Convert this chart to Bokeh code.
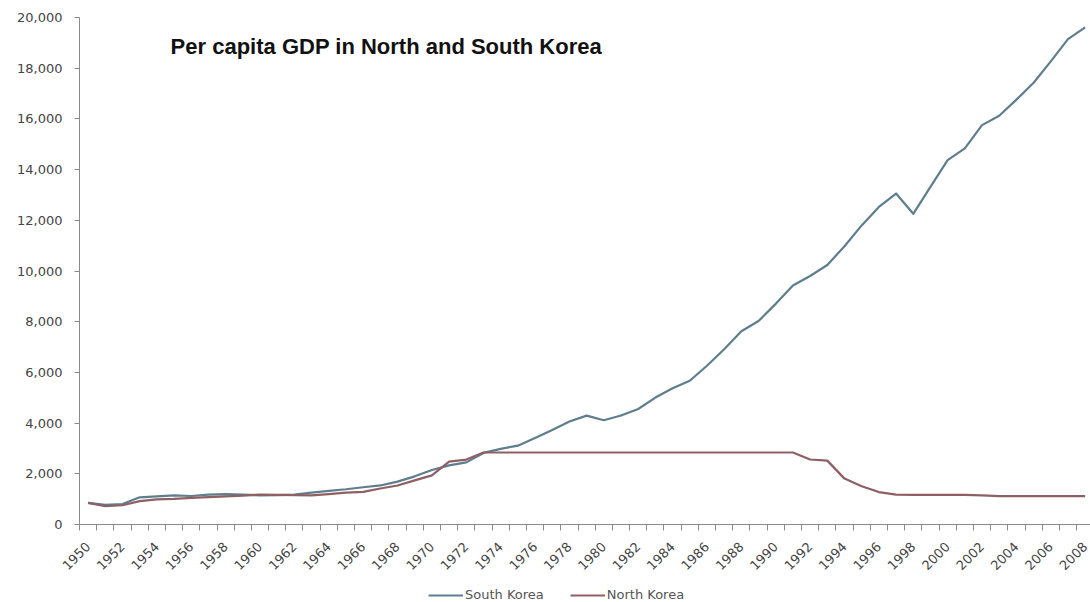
from bokeh.plotting import figure
from bokeh.models import (Range1d, FixedTicker, NumeralTickFormatter, Legend,
                          LegendItem, Label, ColumnDataSource)
from bokeh.embed import file_html
from bokeh.resources import INLINE
import math

years = list(range(1950, 2009))
south_korea = [854, 772, 808, 1072, 1106, 1151, 1124, 1178, 1196, 1180,
               1150, 1160, 1180, 1260, 1330, 1390, 1470, 1540, 1690, 1900,
               2150, 2330, 2450, 2824, 2986, 3111, 3415, 3727, 4064, 4294,
               4114, 4302, 4557, 5007, 5375, 5670, 6263, 6916, 7621, 8027,
               8704, 9425, 9801, 10238, 10975, 11800, 12527, 13057, 12257, 13317,
               14375, 14838, 15755, 16127, 16760, 17426, 18269, 19150, 19614]
north_korea = [854, 720, 760, 920, 990, 1010, 1050, 1080, 1110, 1140,
               1180, 1170, 1160, 1150, 1200, 1260, 1290, 1420, 1540, 1740,
               1940, 2480, 2560, 2841, 2841, 2841, 2841, 2841, 2841, 2841,
               2841, 2841, 2841, 2841, 2841, 2841, 2841, 2841, 2841, 2841,
               2841, 2841, 2564, 2520, 1810, 1510, 1280, 1180, 1170, 1170,
               1170, 1170, 1150, 1120, 1120, 1120, 1120, 1120, 1120]
label_years = years[::2]
y_ticks = list(range(0, 20001, 2000))
title_text = "Per capita GDP in North and South Korea"
series_names = ["South Korea", "North Korea"]

src = ColumnDataSource(dict(year=years, sk=south_korea, nk=north_korea))

x_start = years[0] - 0.5
# the frame fills the whole window; both axes are pinned (fixed_location)
# so their labels and the legend are drawn inside it without clipping
p = figure(width=1090, height=602, output_backend="svg", toolbar_location=None,
           x_range=Range1d(1944.904, 2008.31), y_range=Range1d(-3077, 20671),
           min_border_left=0, min_border_right=0, min_border_top=0,
           min_border_bottom=0)
p.outline_line_color = None
p.background_fill_color = "white"
p.border_fill_color = "white"
p.xgrid.visible = False
p.ygrid.visible = False

sk_color = "#5f7e8d"
nk_color = "#8e6064"
r_sk = p.line("year", "sk", source=src, line_color=sk_color, line_width=2.2,
              line_join="round")
r_nk = p.line("year", "nk", source=src, line_color=nk_color, line_width=2.2,
              line_join="round")

axis_color = "#8a8a8a"
label_color = "#444444"
font = "DejaVu Sans"

xa = p.xaxis[0]
xa.fixed_location = 0
xa.bounds = (x_start, years[-1] + 2)
xa.ticker = FixedTicker(ticks=label_years,
                        minor_ticks=[y - 0.5 for y in years] + [years[-1] + 0.5])
xa.major_label_orientation = math.pi / 4
xa.major_tick_out = 0
xa.major_tick_in = 0
xa.minor_tick_out = 6
xa.minor_tick_in = 0
xa.minor_tick_line_color = axis_color
xa.axis_line_color = axis_color
xa.major_label_text_font = font
xa.major_label_text_font_size = "13px"
xa.major_label_text_color = label_color
xa.major_label_standoff = 14

ya = p.yaxis[0]
ya.fixed_location = x_start
ya.bounds = (0, 20000)
ya.ticker = FixedTicker(ticks=y_ticks, minor_ticks=[])
ya.formatter = NumeralTickFormatter(format="0,0")
ya.major_tick_out = 5
ya.major_tick_in = 0
ya.major_tick_line_color = axis_color
ya.axis_line_color = axis_color
ya.major_label_text_font = font
ya.major_label_text_font_size = "13px"
ya.major_label_text_color = label_color
ya.major_label_standoff = 12

title = Label(x=1954.8, y=18850, x_units="data", y_units="data",
              text=title_text, text_font="Liberation Sans",
              text_font_style="bold", text_font_size="22px",
              text_color="#111111", text_baseline="middle")
p.add_layout(title)

legend = Legend(items=[LegendItem(label=series_names[0], renderers=[r_sk]),
                       LegendItem(label=series_names[1], renderers=[r_nk])],
                orientation="horizontal", location=(428, 0),
                glyph_width=35, glyph_height=14, label_height=14,
                label_standoff=2, spacing=26, padding=0, margin=0,
                border_line_alpha=0, background_fill_alpha=0,
                label_text_font=font, label_text_font_size="13px",
                label_text_color="#555555")
p.add_layout(legend)

open("out.html", "w").write(file_html(p, INLINE))
